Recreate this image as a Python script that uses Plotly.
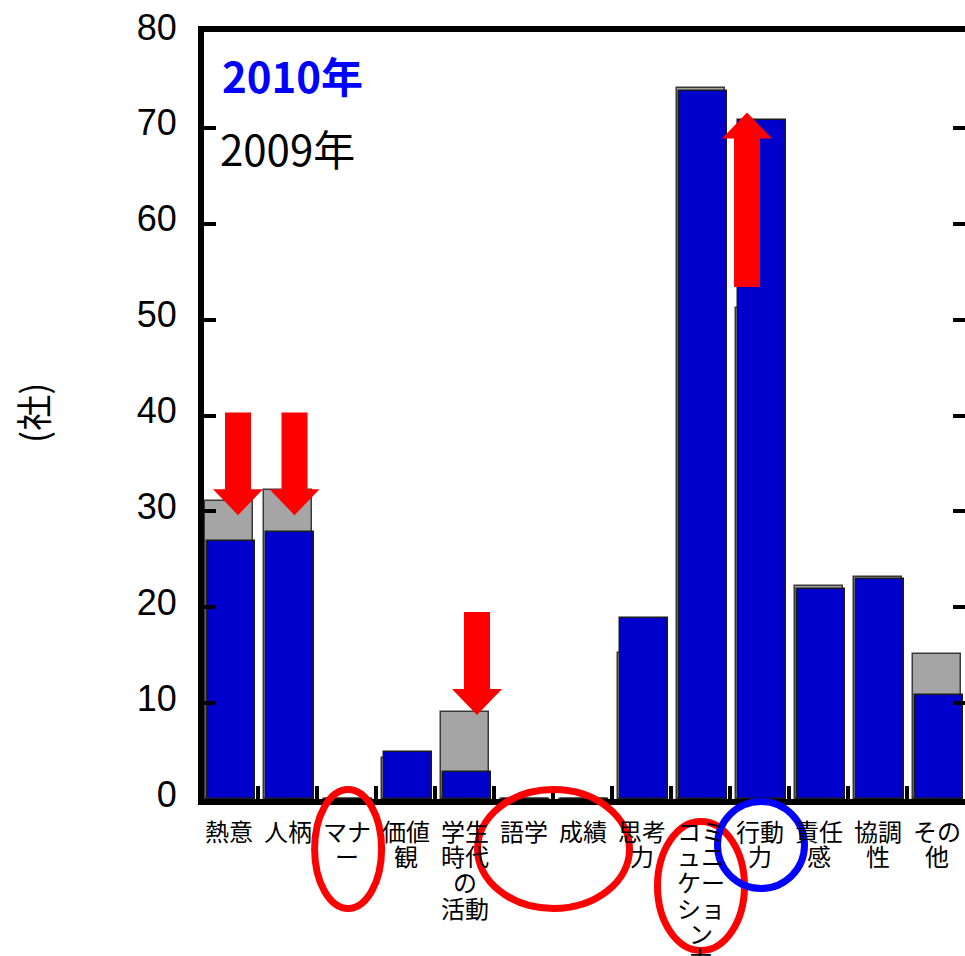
import plotly.graph_objects as go

# ---- data -------------------------------------------------------------
categories = ["熱意", "人柄", "マナー", "価値観", "学生時代の活動", "語学", "成績",
              "思考力", "コミュニケーション力", "行動力", "責任感", "協調性", "その他"]
# wrapped category labels (one entry per printed line)
label_lines = [["熱意"], ["人柄"], ["マナ", "ー"], ["価値", "観"],
               ["学生", "時代", "の", "活動"], ["語学"], ["成績"], ["思考", "力"],
               ["コミ", "ュニ", "ケー", "ショ", "ン", "力"], ["行動", "力"],
               ["責任", "感"], ["協調", "性"], ["その", "他"]]
counts_2009 = [31.1, 32.2, 0, 4.3, 9.1, 0, 0, 15.2, 74.2, 51.2, 22.2, 23.2, 15.1]
counts_2010 = [26.9, 27.8, 0, 4.9, 2.8, 0, 0, 18.9, 73.8, 70.8, 21.9, 22.9, 10.8]
y_tick_values = [0, 10, 20, 30, 40, 50, 60, 70, 80]

# highlight arrows: (category position, tail value, tip value)
arrows = [(0.153, 40.3, 29.6), (1.111, 40.3, 29.6), (4.206, 19.5, 8.75), (8.786, 53.4, 71.6)]
# highlight rings under the axis: (category position, centre px from top, rx px, ry px, colour)
rings = [(2.02, 849, 33.5, 59.5, "#FF0000"), (5.504, 849, 76, 59.5, "#FF0000"),
         (8.005, 886, 43.5, 64.5, "#FF0000"), (9.023, 845, 43.5, 43.5, "#0000FF")]

# ---- geometry ---------------------------------------------------------
W, H = 965, 956
ML, MR, MT, MB = 204, 0, 32, 157
PW, PH = W - ML - MR, H - MT - MB
X0, X1 = -0.424, 12.483
Y0, Y1 = 0, 80
idx = list(range(len(categories)))


def xpaper(cat, dpx=0.0):
    return (cat - X0) / (X1 - X0) + dpx / PW


def ypaper(py):
    return (MT + PH - py) / PH


cat_px = PW / (X1 - X0)
val_px = PH / (Y1 - Y0)

fig = go.Figure()
fig.add_trace(go.Bar(
    x=idx, y=counts_2009, name="2009年", width=0.814, offset=-0.407,
    marker=dict(color="#A5A5A5", line=dict(color="#3A3A3A", width=1.5)),
))
fig.add_trace(go.Bar(
    x=idx, y=counts_2010, name="2010年", width=0.814, offset=-0.373,
    marker=dict(color="#0000CC", line=dict(color="#1A1A1A", width=1.5)),
))

shapes = []
shaft_half = 13 / cat_px
head_half = 25 / cat_px
head_len = 26 / val_px
for xc, y_tail, y_tip in arrows:
    d = 1 if y_tip > y_tail else -1
    base = y_tip - d * head_len
    path = (f"M{xc - shaft_half},{y_tail} L{xc + shaft_half},{y_tail} "
            f"L{xc + shaft_half},{base} L{xc + head_half},{base} L{xc},{y_tip} "
            f"L{xc - head_half},{base} L{xc - shaft_half},{base} Z")
    shapes.append(dict(type="path", xref="x", yref="y", path=path,
                       fillcolor="#FF0000", line=dict(width=0), layer="above"))

for cat, cy, rx, ry, col in rings:
    shapes.append(dict(type="circle", xref="paper", yref="paper",
                       x0=xpaper(cat, -rx), x1=xpaper(cat, rx),
                       y0=ypaper(cy + ry), y1=ypaper(cy - ry),
                       line=dict(color=col, width=7), fillcolor="rgba(0,0,0,0)",
                       layer="above"))

annotations = []
label_font = dict(family="Noto Sans CJK JP", size=24, color="black")
for i, lines in enumerate(label_lines):
    for j, line in enumerate(lines):
        annotations.append(dict(x=i, y=0, xref="x", yref="y", text=line,
                                showarrow=False, font=label_font,
                                xanchor="center", yanchor="middle",
                                yshift=-31 - j * 25.7))

annotations.append(dict(x=xpaper(X0, 220 - ML), y=ypaper(75), xref="paper", yref="paper",
                        text="<b>2010年</b>", showarrow=False, xanchor="left", yanchor="middle",
                        font=dict(family="Noto Sans CJK JP", size=42, color="#0000FF")))
annotations.append(dict(x=xpaper(X0, 218 - ML), y=ypaper(147), xref="paper", yref="paper",
                        text="2009年", showarrow=False, xanchor="left", yanchor="middle",
                        font=dict(family="Noto Sans CJK JP", size=42, color="black")))
annotations.append(dict(x=xpaper(X0, 32 - ML), y=ypaper(413), xref="paper", yref="paper",
                        text="(社)", showarrow=False, textangle=-90,
                        xanchor="center", yanchor="middle",
                        font=dict(family="Noto Sans CJK JP", size=36, color="black")))

fig.update_layout(
    width=W, height=H,
    margin=dict(l=ML, r=MR, t=MT, b=MB, pad=0, autoexpand=False),
    paper_bgcolor="white", plot_bgcolor="white",
    barmode="overlay", bargap=0,
    showlegend=False,
    shapes=shapes, annotations=annotations,
    xaxis=dict(range=[X0, X1], showgrid=False, zeroline=False, automargin=False,
               showline=True, linecolor="black", linewidth=6, mirror=True,
               tickmode="array", tickvals=[i + 0.5 for i in idx[:-1]],
               ticks="inside", ticklen=13, tickwidth=4, tickcolor="black",
               showticklabels=False, fixedrange=True),
    yaxis=dict(range=[Y0, Y1], showgrid=False, zeroline=False, automargin=False,
               showline=True, linecolor="black", linewidth=6, mirror="ticks",
               tickmode="array", tickvals=y_tick_values,
               ticks="inside", ticklen=12, tickwidth=4, tickcolor="black",
               tickfont=dict(family="Liberation Sans", size=36, color="black"),
               ticklabelstandoff=14, ticklabelshift=-5, fixedrange=True),
)

fig.write_html("out.html")
